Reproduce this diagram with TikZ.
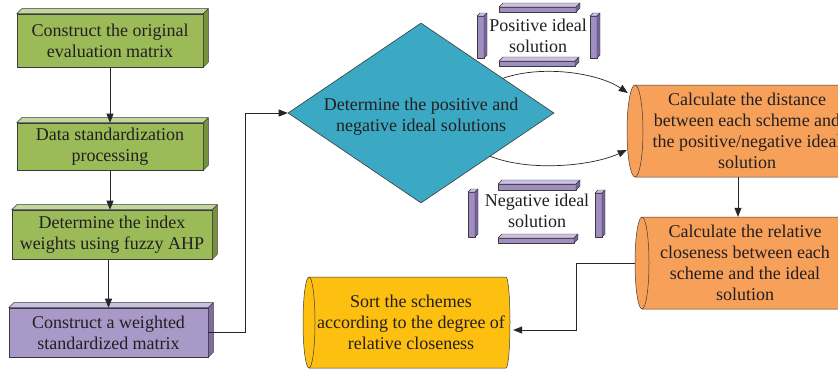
\documentclass[tikz,border=0pt]{standalone}
\usepackage{fontspec}
\setmainfont{Liberation Serif}
\newfontfamily\tnrfont{Liberation Serif}
\usetikzlibrary{shapes.geometric,arrows.meta,calc}
\definecolor{edgecol}{HTML}{3A3A3A}
\definecolor{txtcol}{HTML}{231F20}
\definecolor{grfront}{HTML}{9BBB59}
\definecolor{grtop}{HTML}{C3D69B}
\definecolor{grside}{HTML}{76923C}
\definecolor{pufront}{HTML}{A899C8}
\definecolor{putop}{HTML}{C9BFE0}
\definecolor{puside}{HTML}{7D6CA3}
\definecolor{barfront}{HTML}{A08DC2}
\definecolor{bartop}{HTML}{CBBFE2}
\definecolor{barside}{HTML}{75649A}
\definecolor{tealcol}{HTML}{3CA9C4}
\definecolor{orcol}{HTML}{F7A05A}
\definecolor{yecol}{HTML}{FDC010}
\tikzset{
  lbl/.style={font=\tnrfont\fontsize{18}{21}\selectfont, text=txtcol, align=center},
  flatbox/.style={lbl, draw=edgecol, line width=0.6pt, inner sep=0pt, rectangle},
  face/.style={draw=edgecol, line width=0.5pt, line join=round},
  conn/.style={draw=black!85, line width=0.7pt, -{Triangle[length=9pt,width=7pt]}},
}
% 3D faces on a node: node, depth, top colour, side colour
\newcommand\boxfaces[4]{%
  \filldraw[face, fill=#3] (#1.north west) -- ++(#2,-#2) -- ($(#1.north east)+(#2,-#2)$) -- (#1.north east) -- cycle;
  \filldraw[face, fill=#4] (#1.north east) -- ++(#2,-#2) -- ($(#1.south east)+(#2,-#2)$) -- (#1.south east) -- cycle;
}
% slab: x1 y1 x2 y2 depth
\newcommand\slab[5]{%
  \filldraw[face, line width=0.4pt, fill=barfront] (#1,#2) rectangle (#3,#4);
  \filldraw[face, line width=0.4pt, fill=bartop] (#1,#2) -- ({#1+#5},{#2-#5}) -- ({#3+#5},{#2-#5}) -- (#3,#2) -- cycle;
  \filldraw[face, line width=0.4pt, fill=barside] (#3,#2) -- ({#3+#5},{#2-#5}) -- ({#3+#5},{#4-#5}) -- (#3,#4) -- cycle;
}
\begin{document}
\begin{tikzpicture}[x=1pt,y=-1pt]
\useasboundingbox (0,0) rectangle (838,370);
\fill[white] (0,0) rectangle (838,370);

% left column boxes
\node[flatbox, fill=grfront, minimum width=186pt, minimum height=53pt] (b1) at (110,40.5) {Construct the original\\evaluation matrix};
\boxfaces{b1}{5}{grtop}{grside}
\node[flatbox, fill=grfront, minimum width=186pt, minimum height=47pt] (b2) at (110,146.5) {Data standardization\\processing};
\boxfaces{b2}{5}{grtop}{grside}
\node[flatbox, fill=grfront, minimum width=200pt, minimum height=49pt] (b3) at (112,234.5) {Determine the index\\weights using fuzzy AHP};
\boxfaces{b3}{5}{grtop}{grside}
\node[flatbox, fill=pufront, minimum width=199pt, minimum height=49pt] (b4) at (108.5,332.5) {Construct a weighted\\standardized matrix};
\boxfaces{b4}{5}{putop}{puside}

% diamond
\node[diamond, draw=edgecol, line width=0.6pt, fill=tealcol, minimum width=266pt, minimum height=180pt, inner sep=0pt] (d) at (421,113) {};
\node[lbl] (dtxt) at (421,117) {Determine the positive and\\negative ideal solutions};

% bars around ideal solution labels
\slab{499}{7}{576}{12}{4}
\slab{477}{16}{484}{58}{3}
\slab{590}{16}{597}{58}{3}
\slab{499}{61}{575}{66}{4}
\node[lbl] (pos) at (538,35.5) {Positive ideal\\solution};

\slab{498}{184}{576}{190}{4}
\slab{468}{192}{475}{237}{3}
\slab{595}{193}{602}{237}{3}
\slab{498}{238}{574}{243}{4}
\node[lbl] (neg) at (537,211) {Negative ideal\\solution};

% cylinders
\filldraw[face, fill=orcol] (635,85) -- (870,85) arc[start angle=-90,end angle=90,x radius=8,y radius=46] -- (635,177) -- cycle;
\filldraw[face, fill=orcol] (635,131) ellipse[x radius=8,y radius=46];
\node[lbl, minimum width=224pt, minimum height=92pt, inner sep=0pt] (c1) at (747,131) {Calculate the distance\\between each scheme and\\the positive/negative ideal\\solution};

\filldraw[face, fill=orcol] (642,217) -- (860,217) arc[start angle=-90,end angle=90,x radius=7,y radius=46] -- (642,309) -- cycle;
\filldraw[face, fill=orcol] (642,263) ellipse[x radius=7,y radius=46];
\node[lbl, minimum width=206pt, minimum height=92pt, inner sep=0pt] (c2) at (745,263) {Calculate the relative\\closeness between each\\scheme and the ideal\\solution};

\filldraw[face, fill=yecol] (309,277) -- (506,277) arc[start angle=-90,end angle=90,x radius=4,y radius=45.5] -- (309,368) -- cycle;
\filldraw[face, fill=yecol] (309,322.5) ellipse[x radius=6,y radius=45.5];
\node[lbl, minimum width=204pt, minimum height=91pt, inner sep=0pt] (c3) at (411,322.5) {Sort the schemes\\according to the degree of\\relative closeness};

% connectors
\draw[conn] (b1.south) -- (b2.north);
\draw[conn] (b2.south) -- (b2.south |- b3.north);
\draw[conn] (b4.north |- b3.south) -- (b4.north);
\draw[conn] (b4.east) -- ++(37,0) |- (d.west);
\draw[conn] (d.23) .. controls (545,64) and (600,74) .. ($(c1.west)+(-7,-38)$);
\draw[conn] (d.-32) .. controls (530,172) and (592,166) .. ($(c1.west)+(-8,19)$);
\draw[conn] ($(c1.south)+(-9,0)$) -- ($(c2.north)+(-7,0)$);
\draw[conn] ($(c2.west)+(-7,0)$) -- ++(-58,0) |- ($(c3.east)+(0,7.5)$);
\end{tikzpicture}
\end{document}
